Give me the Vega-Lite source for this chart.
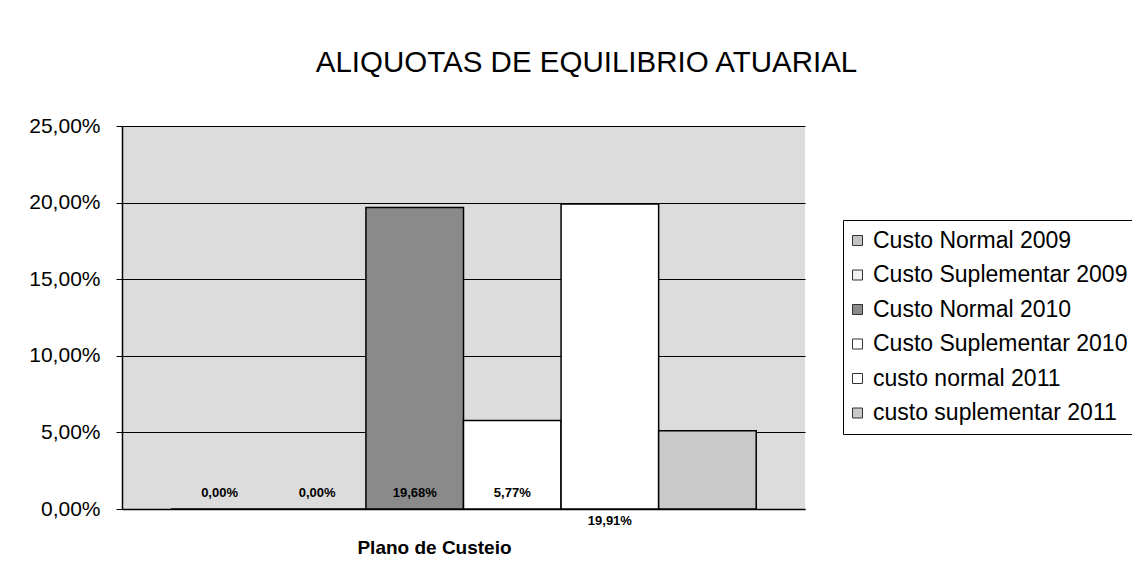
{
  "$schema": "https://vega.github.io/schema/vega-lite/v6.json",
  "autosize": {"type": "none"},
  "padding": {"left": 122, "top": 126, "right": 327, "bottom": 72},
  "width": 683,
  "height": 383,
  "background": "white",
  "config": {
    "locale": {"number": {"decimal": ",", "thousands": ".", "grouping": [3], "currency": ["R$ ", ""]}},
    "font": "Liberation Sans",
    "view": {"stroke": null, "fill": "#dcdcdc"}
  },
  "title": {
    "text": "ALIQUOTAS DE EQUILIBRIO ATUARIAL",
    "font": "Liberation Sans",
    "fontSize": 29.5,
    "fontWeight": "normal",
    "color": "black",
    "anchor": "middle",
    "frame": "group",
    "dx": 123,
    "baseline": "alphabetic",
    "offset": 14
  },
  "data": {
    "values": [
      {"serie": "Custo Normal 2009", "valor": 0.0, "rotulo": "acima"},
      {"serie": "Custo Suplementar 2009", "valor": 0.0, "rotulo": "acima"},
      {"serie": "Custo Normal 2010", "valor": 0.1968, "rotulo": "acima"},
      {"serie": "Custo Suplementar 2010", "valor": 0.0577, "rotulo": "acima"},
      {"serie": "custo normal 2011", "valor": 0.1991, "rotulo": "abaixo"},
      {"serie": "custo suplementar 2011", "valor": 0.051, "rotulo": "nenhum"}
    ]
  },
  "encoding": {
    "x": {
      "field": "serie",
      "type": "nominal",
      "sort": null,
      "scale": {"paddingInner": 0, "paddingOuter": 0.5},
      "axis": {
        "labels": false,
        "ticks": false,
        "domainColor": "black",
        "domainWidth": 1.5,
        "title": "Plano de Custeio",
        "titleFont": "Liberation Sans",
        "titleFontSize": 19,
        "titleFontWeight": "bold",
        "titleColor": "black",
        "titleX": 312,
        "titleY": 44,
        "titleBaseline": "alphabetic",
        "titleAnchor": null
      }
    }
  },
  "layer": [
    {
      "mark": {"type": "bar", "stroke": "black", "strokeWidth": 1.5},
      "encoding": {
        "y": {
          "field": "valor",
          "type": "quantitative",
          "scale": {"domain": [0, 0.25], "nice": false},
          "axis": {
            "values": [0, 0.05, 0.1, 0.15, 0.2, 0.25],
            "format": ".2%",
            "title": null,
            "labelFont": "Liberation Sans",
            "labelFontSize": 21,
            "labelColor": "black",
            "labelPadding": 16,
            "tickSize": 6,
            "tickColor": "black",
            "domainColor": "black",
            "domainWidth": 1.5,
            "gridColor": "black",
            "gridWidth": 1,
            "gridOpacity": 1
          }
        },
        "color": {
          "field": "serie",
          "type": "nominal",
          "sort": null,
          "scale": {
            "domain": ["Custo Normal 2009", "Custo Suplementar 2009", "Custo Normal 2010", "Custo Suplementar 2010", "custo normal 2011", "custo suplementar 2011"],
            "range": ["#c4c4c4", "#f0f0f0", "#8a8a8a", "#ffffff", "#ffffff", "#c9c9c9"]
          },
          "legend": {
            "title": null,
            "orient": "none",
            "legendX": 721,
            "legendY": 94,
            "strokeColor": "black",
            "fillColor": "white",
            "padding": 9,
            "labelFont": "Liberation Sans",
            "labelFontSize": 23,
            "labelColor": "black",
            "labelLimit": 400,
            "symbolType": "square",
            "symbolSize": 100,
            "symbolStrokeColor": "#333333",
            "symbolStrokeWidth": 1,
            "symbolOffset": -6,
            "labelOffset": 4,
            "rowPadding": 10.5
          }
        }
      }
    },
    {
      "transform": [{"filter": "datum.rotulo == 'acima'"}],
      "mark": {"type": "text", "font": "Liberation Sans", "fontSize": 13, "fontWeight": "bold", "color": "black", "baseline": "alphabetic", "dy": -12},
      "encoding": {
        "y": {"datum": 0, "type": "quantitative"},
        "text": {"field": "valor", "type": "quantitative", "format": ".2%"}
      }
    },
    {
      "transform": [{"filter": "datum.rotulo == 'abaixo'"}],
      "mark": {"type": "text", "font": "Liberation Sans", "fontSize": 13, "fontWeight": "bold", "color": "black", "baseline": "alphabetic", "dy": 16},
      "encoding": {
        "y": {"datum": 0, "type": "quantitative"},
        "text": {"field": "valor", "type": "quantitative", "format": ".2%"}
      }
    }
  ]
}
